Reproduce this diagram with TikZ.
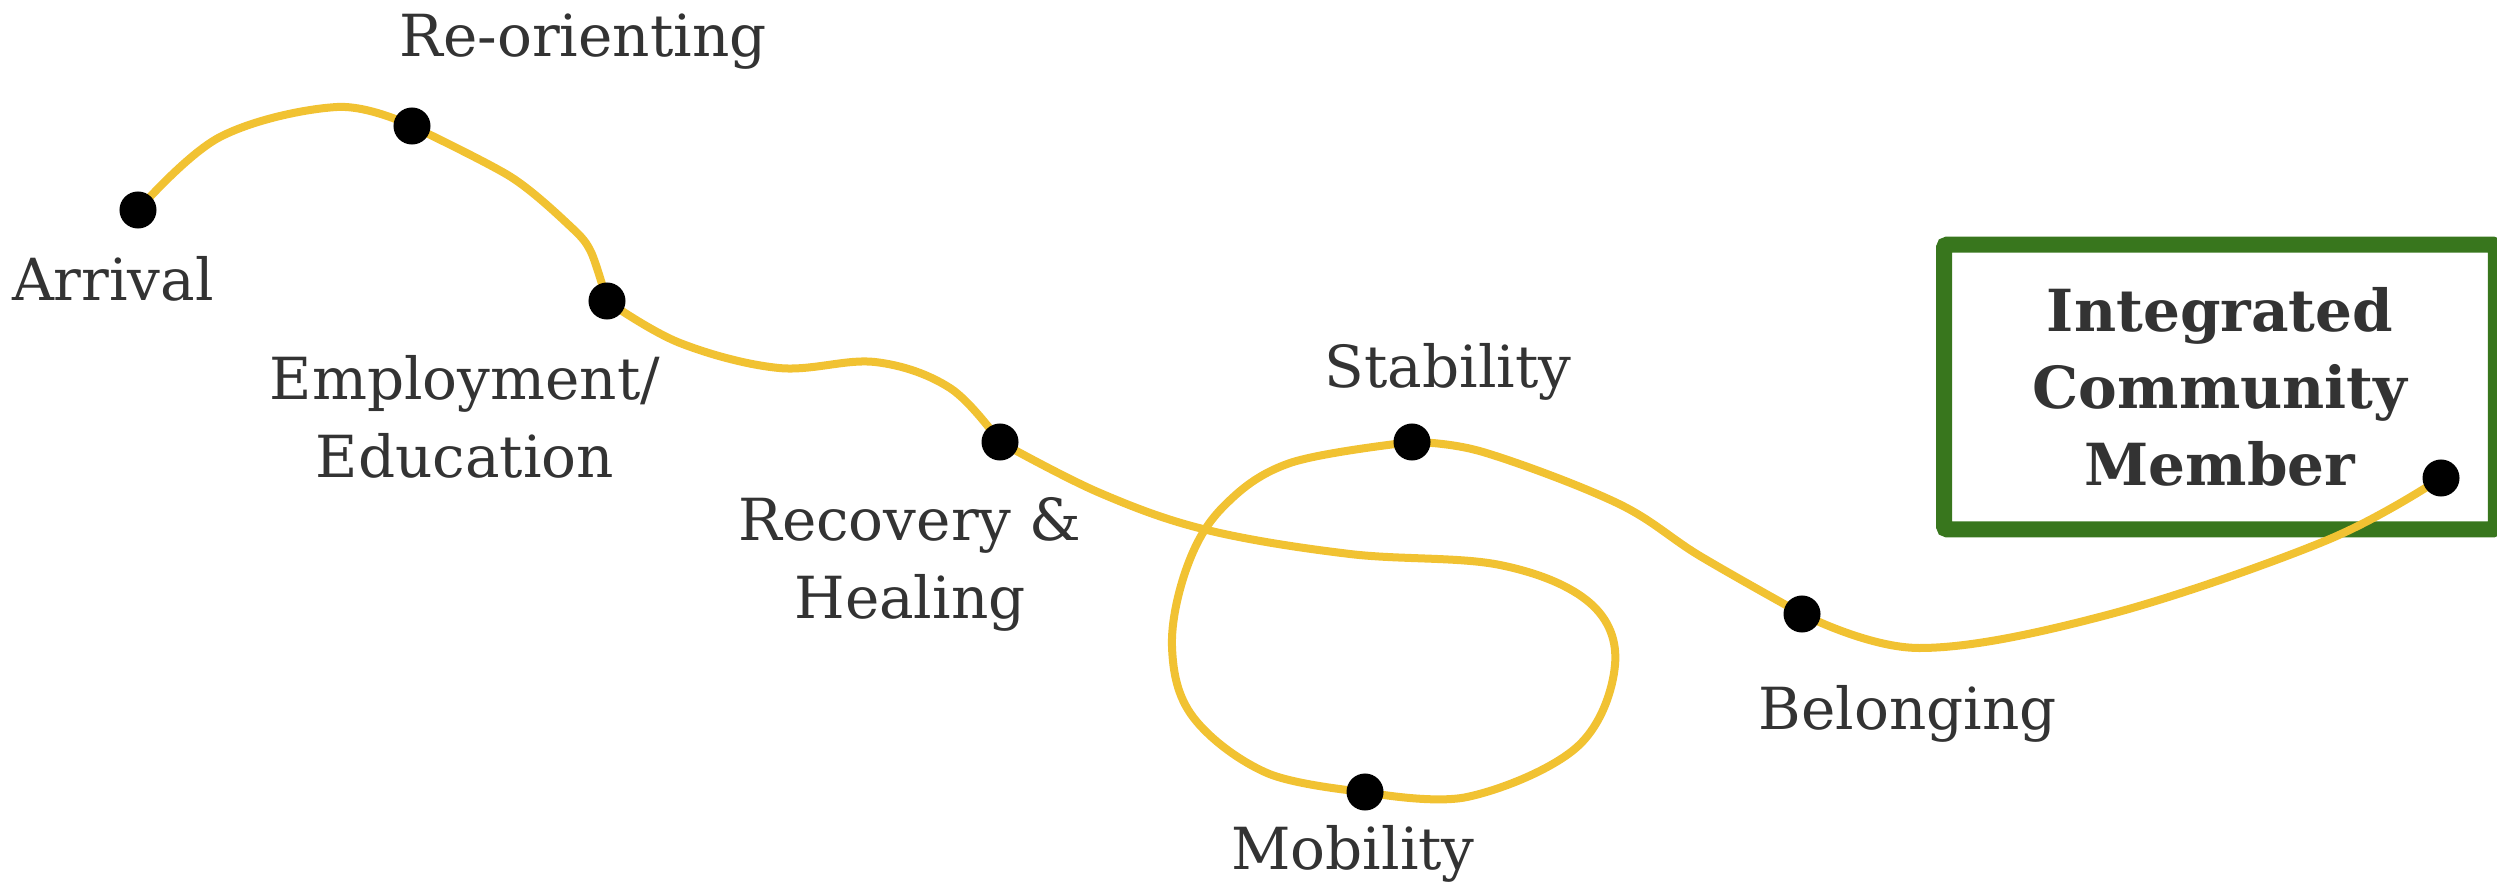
\documentclass[tikz,border=0pt]{standalone}
\usepackage{fontspec}
\setmainfont{DejaVu Serif}
\usetikzlibrary{positioning,backgrounds}

\definecolor{trailyellow}{HTML}{F1C232}
\definecolor{goalgreen}{HTML}{38761D}
\definecolor{labelgray}{HTML}{333333}

\tikzset{
  stopdot/.style={circle, fill=black, minimum size=0.37cm, inner sep=0pt},
  lbl/.style={text=labelgray, font=\fontsize{16.5}{21.9}\selectfont,
    align=center, inner sep=0pt, anchor=base},
  trail/.style={draw=trailyellow, line width=0.08cm, line join=round},
  goal/.style={draw=goalgreen, line width=0.16cm, rounded corners=0.03cm,
    minimum width=5.515cm, minimum height=2.845cm, text=labelgray,
    font=\fontsize{16.5}{21.9}\selectfont\bfseries, align=center}
}

\begin{document}
\begin{tikzpicture}[x=0.01cm, y=-0.01cm]
\useasboundingbox (0,0) rectangle (2497,882);
% stops on the journey
\node[stopdot] (arr) at (138,210) {};
\node[stopdot] (reo) at (412,126) {};
\node[stopdot] (emp) at (607,301) {};
\node[stopdot] (rec) at (1000,442) {};
\node[stopdot] (mob) at (1365,792) {};
\node[stopdot] (stab) at (1412,442) {};
\node[stopdot] (bel) at (1802,614) {};
\node[stopdot] (icm) at (2441,478) {};
% labels (base = last line)
\node[lbl] (arrl) at (113,300) {Arrival};
\node[lbl] (reol) at (583,57) {Re-orienting};
\node[lbl] (empl) at (465,477) {Employment/\\Education};
\node[lbl] (recl) at (910,618) {Recovery \&\\Healing};
\node[lbl] (stabl) at (1448,387) {Stability};
\node[lbl] (mobl) at (1353,869) {Mobility};
\node[lbl] (bell) at (1908,729) {Belonging};
\begin{scope}[on background layer]
\node[goal] (goalbox) at (2220,387) {Integrated\\Community\\Member};
% the path, one piece between each pair of stops
\draw[trail] plot[smooth, tension=0.6] coordinates {(arr.center) (220,137)
  (337,107) (reo.center)};
\draw[trail] plot[smooth, tension=0.5] coordinates {(reo.center) (511,177)
  (571,227) (591,252) (emp.center)};
\draw[trail] plot[smooth, tension=0.6] coordinates {(emp.center) (680,343)
  (779,368) (875,362) (950,388) (rec.center)};
\draw[trail] plot[smooth, tension=0.6] coordinates {(rec.center) (1100,493)
  (1207,530) (1350,554) (1500,565) (1590,603) (1615,665) (1577,747)
  (1467,797) (mob.center)};
\draw[trail] plot[smooth, tension=0.6] coordinates {(mob.center) (1267,773)
  (1193,717) (1172,647) (1187,567) (1223,507) (1290,463) (stab.center)};
\draw[trail] plot[smooth, tension=0.6] coordinates {(stab.center) (1483,452)
  (1617,503) (1700,556) (bel.center)};
\draw[trail] plot[smooth, tension=0.6] coordinates {(bel.center) (1919,648)
  (2107,615) (2325,541) (icm.center)};
\end{scope}
\end{tikzpicture}
\end{document}
